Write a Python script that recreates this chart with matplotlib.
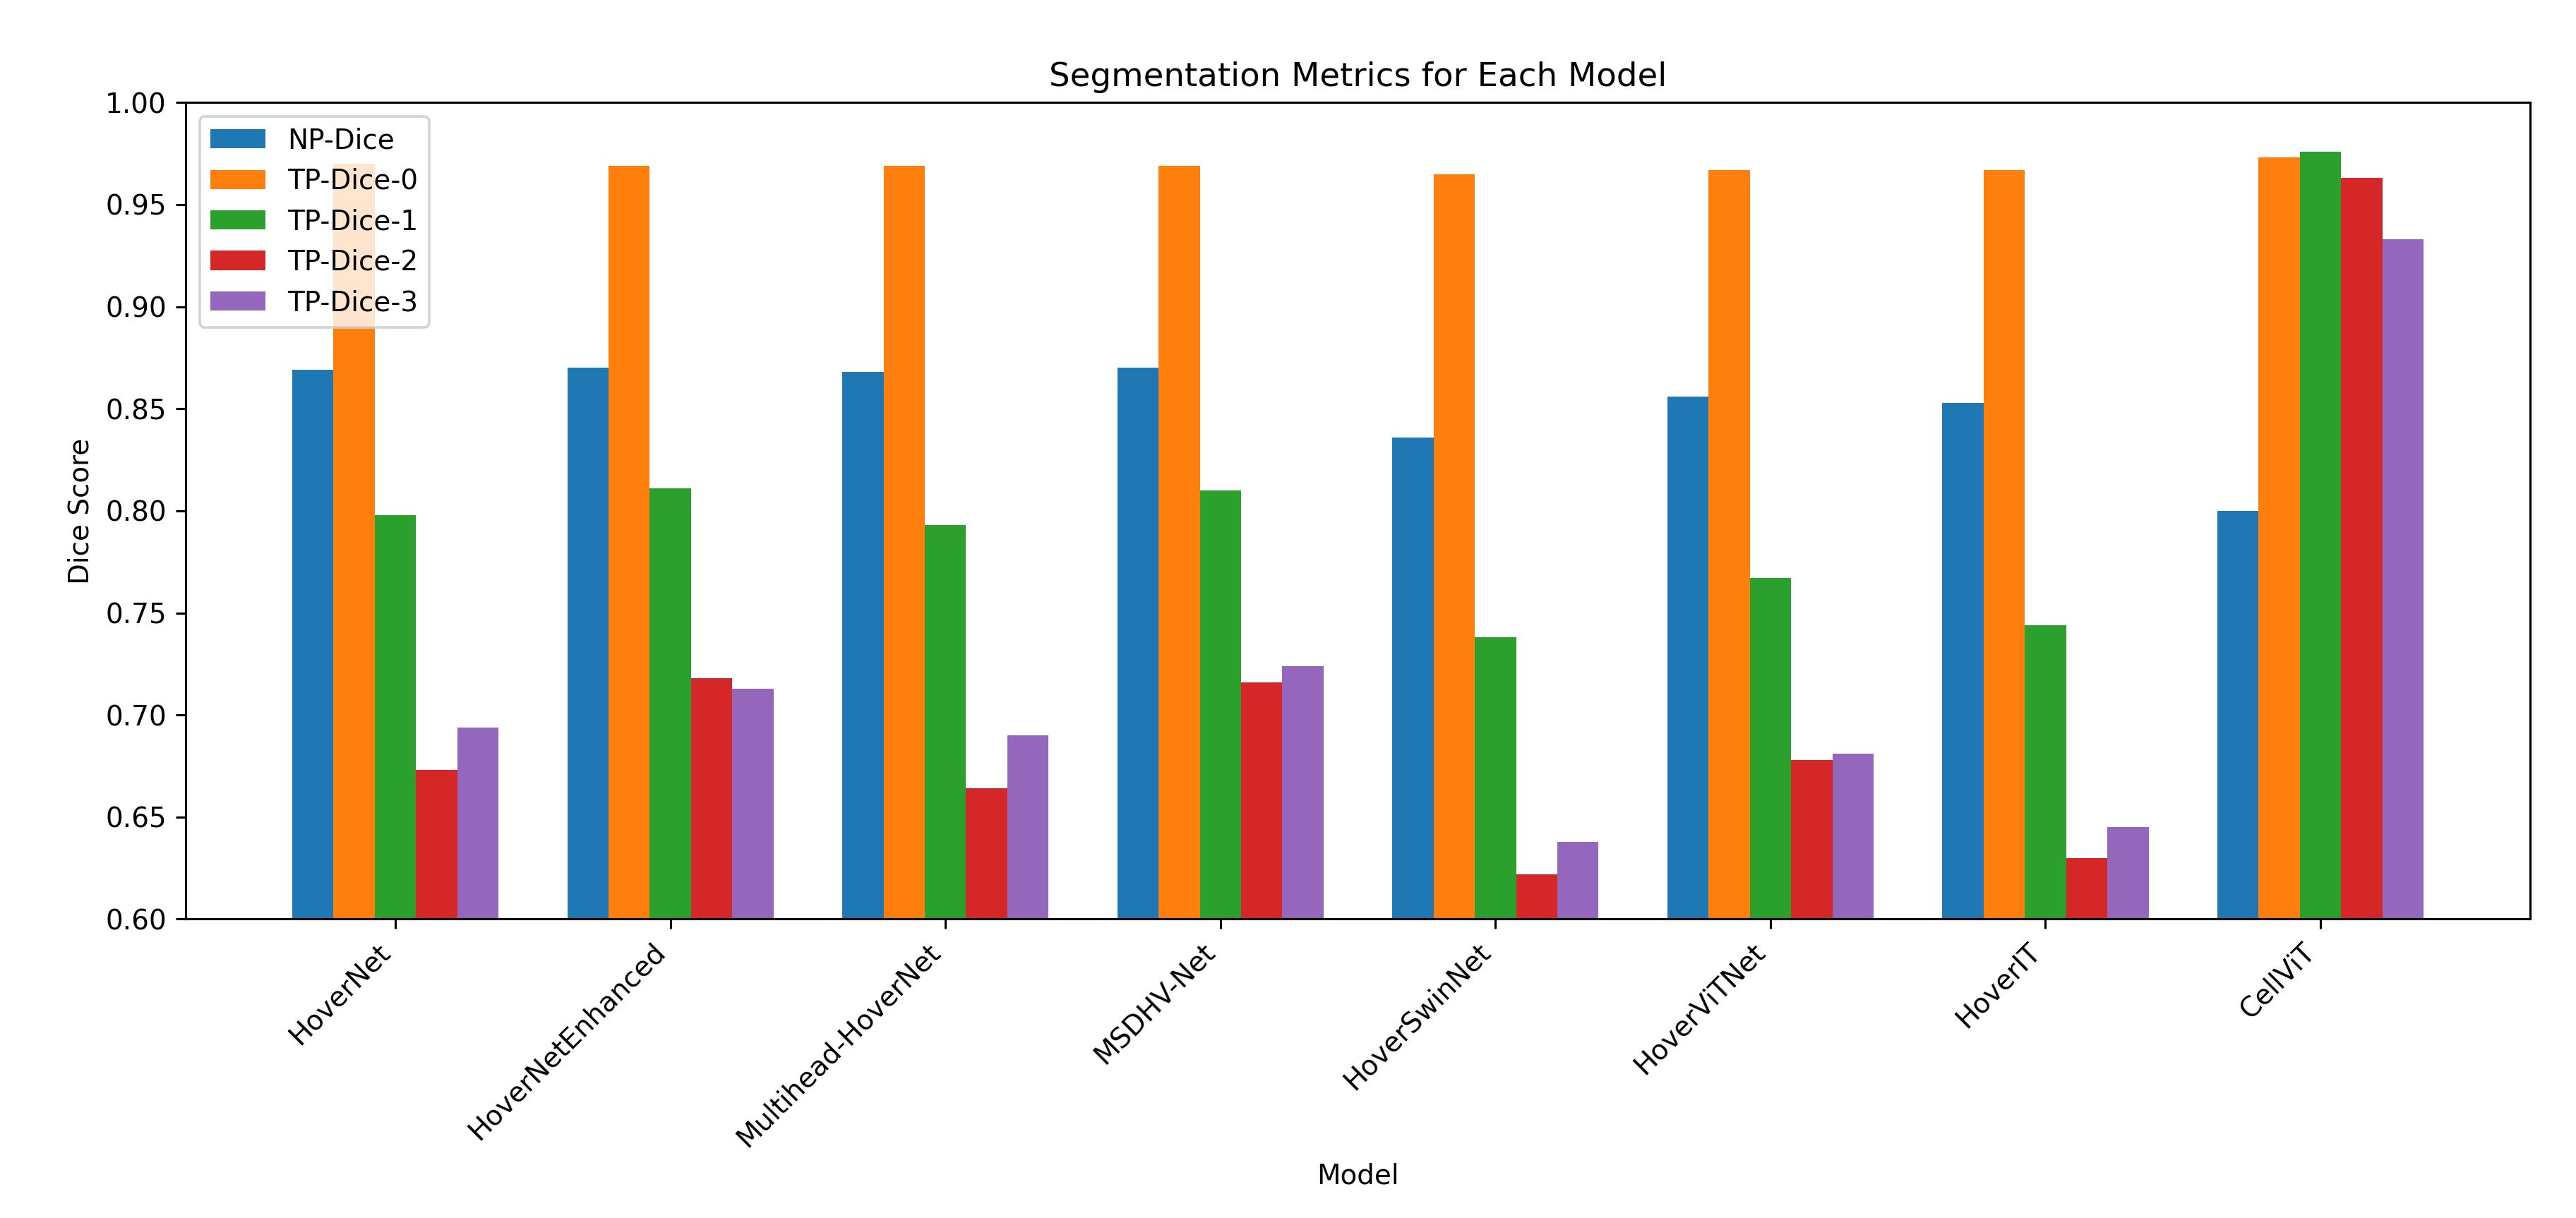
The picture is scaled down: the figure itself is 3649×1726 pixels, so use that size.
import numpy as np
import matplotlib
matplotlib.use("Agg")
import matplotlib.pyplot as plt

models = ["HoverNet", "HoverNetEnhanced", "Multihead-HoverNet", "MSDHV-Net",
          "HoverSwinNet", "HoverViTNet", "HoverIT", "CellViT"]
metric_names = ["NP-Dice", "TP-Dice-0", "TP-Dice-1", "TP-Dice-2", "TP-Dice-3"]

np_dice = [0.869, 0.870, 0.868, 0.870, 0.836, 0.856, 0.853, 0.800]
tp_dice_0 = [0.970, 0.969, 0.969, 0.969, 0.965, 0.967, 0.967, 0.973]
tp_dice_1 = [0.798, 0.811, 0.793, 0.810, 0.738, 0.767, 0.744, 0.976]
tp_dice_2 = [0.673, 0.718, 0.664, 0.716, 0.622, 0.678, 0.630, 0.963]
tp_dice_3 = [0.694, 0.713, 0.690, 0.724, 0.638, 0.681, 0.645, 0.933]

series = [np_dice, tp_dice_0, tp_dice_1, tp_dice_2, tp_dice_3]

dpi = 280
fig = plt.figure(figsize=(3649 / dpi, 1726 / dpi), dpi=dpi)
ax = fig.add_axes([0.0721, 0.2454, 0.9101, 0.6704])

x = np.arange(len(models))
width = 0.15
for j, (name, vals) in enumerate(zip(metric_names, series)):
    ax.bar(x + (j - 2) * width, vals, width, label=name)

ax.set_ylim(0.6, 1.0)
ax.set_xticks(x)
ax.set_xticklabels(models, rotation=45, ha="right")
ax.set_xlabel("Model")
ax.set_ylabel("Dice Score")
ax.set_title("Segmentation Metrics for Each Model")
ax.legend(loc="upper left")

fig.savefig("out.png", dpi=dpi)
